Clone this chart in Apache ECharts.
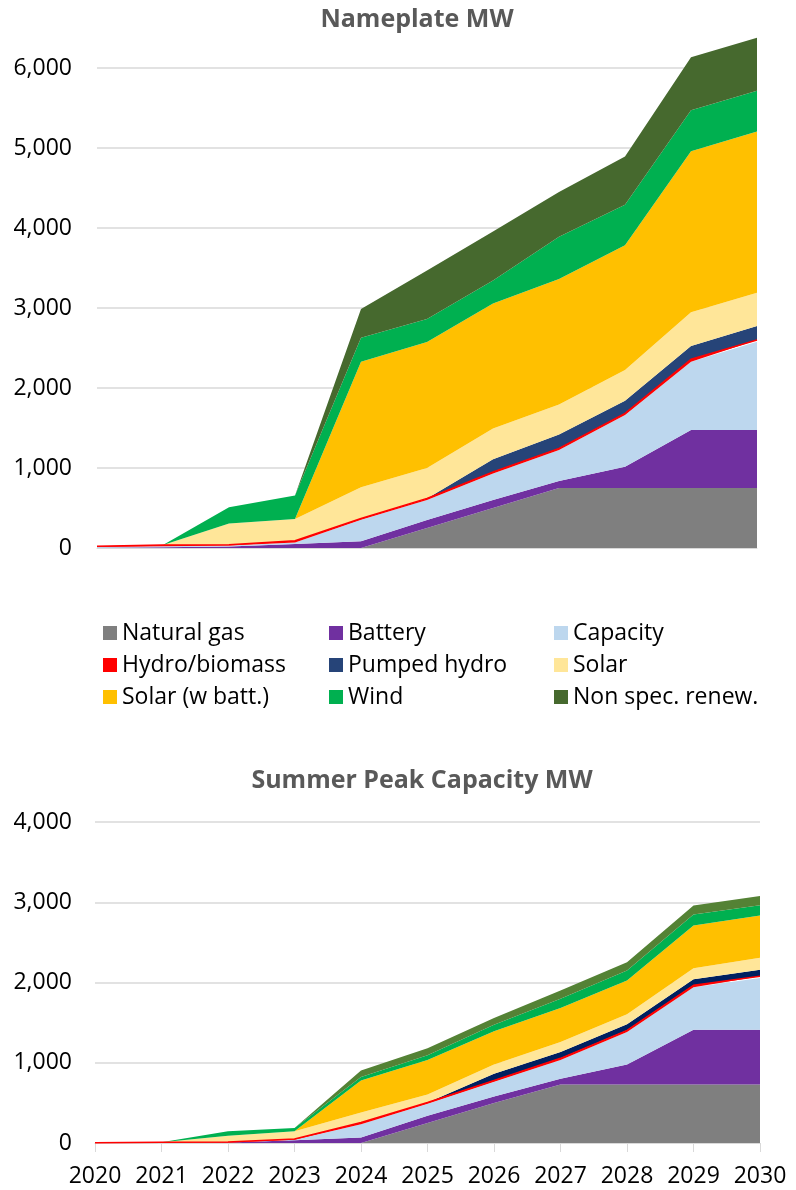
<!DOCTYPE html>
<html>
<head>
<meta charset="utf-8">
<script src="https://cdn.jsdelivr.net/npm/echarts@6/dist/echarts.min.js"></script>
<style>
html, body { margin: 0; padding: 0; background: #fff; }
#chart { width: 796px; height: 1190px; }
</style>
</head>
<body>
<div id="chart"></div>
<script>
const years = ['2020', '2021', '2022', '2023', '2024', '2025', '2026', '2027', '2028', '2029', '2030'];
const seriesNames = ['Natural gas', 'Battery', 'Capacity', 'Hydro/biomass', 'Pumped hydro', 'Solar', 'Solar (w batt.)', 'Wind', 'Non spec. renew.'];

// Nameplate MW
const npGas       = [0, 0, 0, 0, 0, 250, 500, 750, 750, 750, 750];
const npBattery   = [3, 10, 20, 50, 84, 100, 100, 87, 267, 725, 725];
const npCapacity  = [8, 12, 10, 20, 270, 250, 330, 388, 645, 854, 1104];
const npHydro     = [12, 15, 12, 20, 15, 20, 20, 20, 20, 30, 21];
const npPumped    = [0, 0, 0, 0, 0, 0, 160, 175, 160, 167, 175];
const npSolar     = [0, 0, 263, 272, 390, 380, 385, 375, 383, 421, 417];
const npSolarBatt = [0, 0, 0, 0, 1570, 1575, 1560, 1569, 1560, 2011, 2015];
const npWind      = [0, 0, 205, 293, 300, 287, 290, 527, 505, 514, 509];
const npNonSpec   = [0, 0, 0, 0, 360, 607, 612, 558, 603, 661, 662];

// Summer Peak Capacity MW
const spGas       = [0, 0, 0, 0, 0, 250, 500, 730, 730, 730, 730];
const spBattery   = [1, 3, 5, 35, 70, 90, 78, 70, 249, 680, 680];
const spCapacity  = [0, 0, 0, 5, 165, 150, 186, 235, 405, 530, 645];
const spHydro     = [2, 5, 7, 10, 20, 15, 15, 20, 20, 25, 22];
const spPumped    = [0, 0, 0, 0, 0, 0, 85, 80, 75, 75, 83];
const spSolar     = [0, 0, 79, 95, 124, 100, 115, 124, 124, 137, 149];
const spSolarBatt = [0, 0, 0, 0, 400, 430, 413, 422, 421, 533, 525];
const spWind      = [0, 0, 54, 41, 42, 60, 83, 115, 124, 136, 128];
const spNonSpec   = [0, 0, 0, 0, 82, 85, 82, 103, 103, 112, 116];

const topColors    = ['#7F7F7F', '#7030A0', '#BDD7EE', '#FF0000', '#264478', '#FFE699', '#FFC000', '#00B050', '#46692E'];
const bottomColors = ['#7F7F7F', '#7030A0', '#BDD7EE', '#FF0000', '#002060', '#FFE699', '#FFC000', '#00B050', '#548235'];

const FONT = 'Open Sans';
const gridGray = '#D9D9D9';

const topData = [npGas, npBattery, npCapacity, npHydro, npPumped, npSolar, npSolarBatt, npWind, npNonSpec];
const bottomData = [spGas, spBattery, spCapacity, spHydro, spPumped, spSolar, spSolarBatt, spWind, spNonSpec];

function makeSeries(dataList, colors, idx, stack) {
  return dataList.map((d, i) => ({
    name: seriesNames[i],
    type: 'line',
    stack: stack,
    xAxisIndex: idx,
    yAxisIndex: idx,
    data: d,
    clip: false,   // top chart runs above the 6,000 line
    showSymbol: false,
    symbol: 'none',
    color: colors[i],
    lineStyle: { width: seriesNames[i] === 'Hydro/biomass' ? 1.5 : 0, color: colors[i] },
    areaStyle: { color: colors[i], opacity: 1 },
    emphasis: { disabled: true }
  }));
}

const legendText = { fontFamily: FONT, fontSize: 23, color: '#000', lineHeight: 24 };
function makeLegend(left, names) {
  return {
    orient: 'vertical', left: left, top: 621, padding: 0,
    itemWidth: 14, itemHeight: 14, itemGap: 8, icon: 'rect',
    textStyle: legendText, data: names
  };
}

const option = {
  animation: false,
  title: [
    { text: 'Nameplate MW', left: 417, top: 7, padding: 0, textAlign: 'center', textVerticalAlign: 'top',
      textStyle: { fontFamily: FONT, fontSize: 25, fontWeight: 'bold', color: '#595959' } },
    { text: 'Summer Peak Capacity MW', left: 422, top: 768, padding: 0, textAlign: 'center', textVerticalAlign: 'top',
      textStyle: { fontFamily: FONT, fontSize: 25, fontWeight: 'bold', color: '#595959' } }
  ],
  legend: [
    makeLegend(103, ['Natural gas', 'Hydro/biomass', 'Solar (w batt.)']),
    makeLegend(329, ['Battery', 'Pumped hydro', 'Wind']),
    makeLegend(554, ['Capacity', 'Solar', 'Non spec. renew.'])
  ],
  grid: [
    { left: 97, right: 39, top: 68, bottom: 642 },
    { left: 95, right: 36, top: 822, bottom: 47 }
  ],
  xAxis: [
    { type: 'category', gridIndex: 0, data: years, boundaryGap: false,
      axisLine: { lineStyle: { color: gridGray, width: 1 } },
      axisTick: { show: false }, axisLabel: { show: false }, splitLine: { show: false } },
    { type: 'category', gridIndex: 1, data: years, boundaryGap: false,
      axisLine: { lineStyle: { color: gridGray, width: 1 } },
      axisTick: { show: true, interval: 0, length: 9, lineStyle: { color: gridGray } },
      axisLabel: { interval: 0, fontFamily: FONT, fontSize: 23, color: '#000', margin: 22 },
      splitLine: { show: false } }
  ],
  yAxis: [
    { type: 'value', gridIndex: 0, min: 0, max: 6000, interval: 1000,
      axisLine: { show: false }, axisTick: { show: false },
      axisLabel: { fontFamily: FONT, fontSize: 23, color: '#000', margin: 25,
        formatter: v => v.toLocaleString('en-US') },
      splitLine: { lineStyle: { color: gridGray, width: 1.5 } } },
    { type: 'value', gridIndex: 1, min: 0, max: 4000, interval: 1000,
      axisLine: { show: false }, axisTick: { show: false },
      axisLabel: { fontFamily: FONT, fontSize: 23, color: '#000', margin: 23,
        formatter: v => v.toLocaleString('en-US') },
      splitLine: { lineStyle: { color: gridGray, width: 1.5 } } }
  ],
  series: makeSeries(topData, topColors, 0, 'np').concat(makeSeries(bottomData, bottomColors, 1, 'sp'))
};

const myChart = echarts.init(document.getElementById('chart'));
myChart.setOption(option);
</script>
</body>
</html>
